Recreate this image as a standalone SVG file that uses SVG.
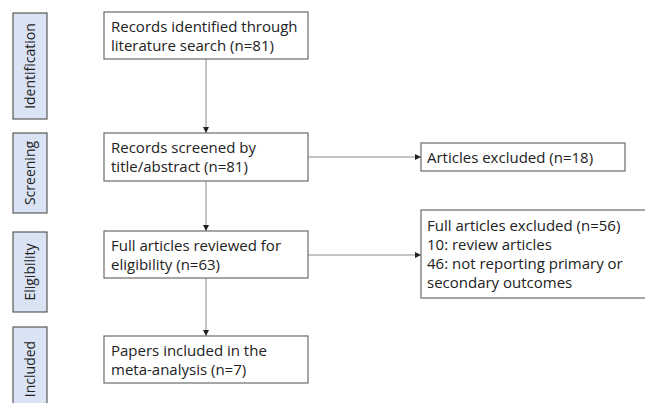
<svg xmlns="http://www.w3.org/2000/svg" width="645" height="403" viewBox="0 0 645 403">
<style>
.box{fill:#fff;stroke:#6b6b6b;stroke-width:1.2}
.side{fill:#dae3f3;stroke:#5a5a5a;stroke-width:1.2}
.t{font-family:"Open Sans","Noto Sans",sans-serif;font-size:15px;fill:#222}
.s{font-family:"Open Sans","Noto Sans",sans-serif;font-size:14px;fill:#222}
.c{stroke:#8a8a8a;stroke-width:1;fill:none}
</style>
<defs>
<marker id="ah" viewBox="0 0 6 6" refX="6" refY="3" markerWidth="6" markerHeight="6" orient="auto" markerUnits="userSpaceOnUse">
<path d="M0,0 L6,3 L0,6 Z" fill="#222"/>
</marker>
</defs>
<g id="side-identification"><rect class="side" x="13" y="13" width="34" height="106"/><text class="s" transform="translate(35,66) rotate(-90)" text-anchor="middle">Identification</text></g>
<g id="side-screening"><rect class="side" x="13" y="133" width="34" height="80"/><text class="s" transform="translate(35,173) rotate(-90)" text-anchor="middle">Screening</text></g>
<g id="side-eligibility"><rect class="side" x="13" y="232" width="34" height="80"/><text class="s" transform="translate(35,272) rotate(-90)" text-anchor="middle">Eligibility</text></g>
<g id="side-included"><rect class="side" x="13" y="327" width="34" height="85"/><text class="s" transform="translate(35,369) rotate(-90)" text-anchor="middle">Included</text></g>
<g id="connectors">
<line class="c" x1="206" y1="59" x2="206" y2="133" marker-end="url(#ah)"/>
<line class="c" x1="206" y1="181" x2="206" y2="231" marker-end="url(#ah)"/>
<line class="c" x1="206" y1="278" x2="206" y2="336" marker-end="url(#ah)"/>
<line class="c" x1="308" y1="157" x2="421" y2="157" marker-end="url(#ah)"/>
<line class="c" x1="308" y1="255" x2="421" y2="255" marker-end="url(#ah)"/>
</g>
<g id="n1"><rect class="box" x="104" y="12" width="204" height="47"/><text class="t" x="111" y="32">Records identified through</text><text class="t" x="111" y="51">literature search (n=81)</text></g>
<g id="n2"><rect class="box" x="104" y="133" width="204" height="48"/><text class="t" x="111" y="153">Records screened by</text><text class="t" x="111" y="172">title/abstract (n=81)</text></g>
<g id="n3"><rect class="box" x="104" y="231" width="204" height="47"/><text class="t" x="111" y="251">Full articles reviewed for</text><text class="t" x="111" y="270">eligibility (n=63)</text></g>
<g id="n4"><rect class="box" x="104" y="336" width="204" height="47"/><text class="t" x="111" y="356">Papers included in the</text><text class="t" x="111" y="375">meta-analysis (n=7)</text></g>
<g id="n5"><rect class="box" x="421" y="143" width="204" height="28"/><text class="t" x="427" y="163">Articles excluded (n=18)</text></g>
<g id="n6"><rect class="box" x="421" y="210" width="230" height="88"/><text class="t" x="427" y="231">Full articles excluded (n=56)</text><text class="t" x="427" y="250">10: review articles</text><text class="t" x="427" y="269">46: not reporting primary or</text><text class="t" x="427" y="288">secondary outcomes</text></g>
</svg>
